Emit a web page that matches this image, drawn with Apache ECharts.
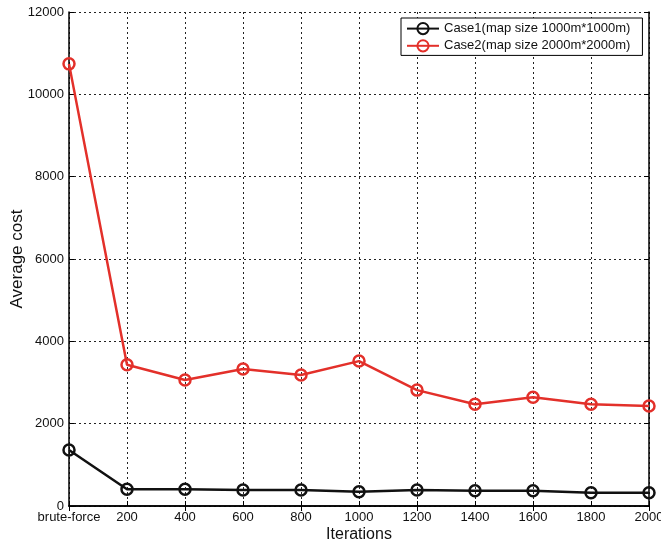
<!DOCTYPE html>
<html>
<head>
<meta charset="utf-8">
<script src="https://cdn.jsdelivr.net/npm/echarts@6/dist/echarts.min.js"></script>
<style>html,body{margin:0;padding:0;background:#fff;}#c{width:661px;height:547px;}</style>
</head>
<body>
<div id="c"></div>
<script>
const categories = ['brute-force','200','400','600','800','1000','1200','1400','1600','1800','2000'];
const case1 = [1360, 405, 405, 390, 390, 345, 390, 370, 370, 320, 320];
const case2 = [10740, 3430, 3060, 3330, 3180, 3520, 2815, 2470, 2640, 2470, 2430];
const yTicks = [0, 2000, 4000, 6000, 8000, 10000, 12000];
const seriesNames = ['Case1(map size 1000m*1000m)', 'Case2(map size 2000m*2000m)'];

const font = 'Liberation Sans, Arial, sans-serif';
const chart = echarts.init(document.getElementById('c'), null, {renderer: 'canvas'});
const grid = {left: 69, right: 12, top: 12, bottom: 41, containLabel: false, outerBoundsMode: 'none'};
const gridLine = {show: true, lineStyle: {color: '#222', type: [2, 3], width: 1}};
chart.setOption({
  animation: false,
  backgroundColor: '#fff',
  grid: grid,
  legend: {
    left: 401, top: 18,
    orient: 'vertical',
    backgroundColor: '#fff',
    borderColor: '#000', borderWidth: 1,
    padding: [4, 12, 3, 5],
    itemGap: 4,
    itemWidth: 32, itemHeight: 14,
    textStyle: {fontFamily: font, fontSize: 13, color: '#111'},
    data: seriesNames
  },
  xAxis: [{
    type: 'category', data: categories, boundaryGap: false,
    axisLine: {lineStyle: {color: '#000', width: 1.5}},
    axisTick: {inside: true, length: 5, lineStyle: {color: '#000'}},
    axisLabel: {fontFamily: font, fontSize: 13, color: '#111', margin: 5, interval: 0},
    splitLine: gridLine,
    name: 'Iterations', nameLocation: 'middle', nameGap: 21, nameMoveOverlap: false,
    nameTextStyle: {fontFamily: font, fontSize: 16, color: '#111'}
  }, {
    type: 'category', data: categories, boundaryGap: false, position: 'top',
    axisLine: {lineStyle: {color: '#000', width: 1.5}},
    axisTick: {inside: true, length: 5, lineStyle: {color: '#000'}},
    axisLabel: {show: false}, splitLine: {show: false}
  }],
  yAxis: [{
    type: 'value', min: yTicks[0], max: yTicks[yTicks.length - 1], interval: 2000,
    axisLine: {show: true, lineStyle: {color: '#000', width: 1.5}},
    axisTick: {show: true, inside: true, length: 5, lineStyle: {color: '#000'}},
    axisLabel: {fontFamily: font, fontSize: 13, color: '#111', margin: 5, formatter: v => String(v)},
    splitLine: gridLine,
    name: 'Average cost', nameLocation: 'middle', nameGap: 43, nameRotate: 90, nameMoveOverlap: false,
    nameTextStyle: {fontFamily: font, fontSize: 17, color: '#111'}
  }, {
    type: 'value', min: yTicks[0], max: yTicks[yTicks.length - 1], interval: 2000, position: 'right',
    axisLine: {show: true, lineStyle: {color: '#000', width: 1.5}},
    axisTick: {show: true, inside: true, length: 5, lineStyle: {color: '#000'}},
    axisLabel: {show: false}, splitLine: {show: false}
  }],
  series: [{
    name: seriesNames[0], type: 'line', data: case1,
    symbol: 'circle', symbolSize: 11, showAllSymbol: true,
    lineStyle: {color: '#111', width: 2.5},
    itemStyle: {color: 'rgba(255,255,255,0)', borderColor: '#111', borderWidth: 2.5},
    z: 3
  }, {
    name: seriesNames[1], type: 'line', data: case2,
    symbol: 'circle', symbolSize: 11, showAllSymbol: true,
    lineStyle: {color: '#e3302a', width: 2.5},
    itemStyle: {color: 'rgba(255,255,255,0)', borderColor: '#e3302a', borderWidth: 2.5},
    z: 3
  }]
});
</script>
</body>
</html>
